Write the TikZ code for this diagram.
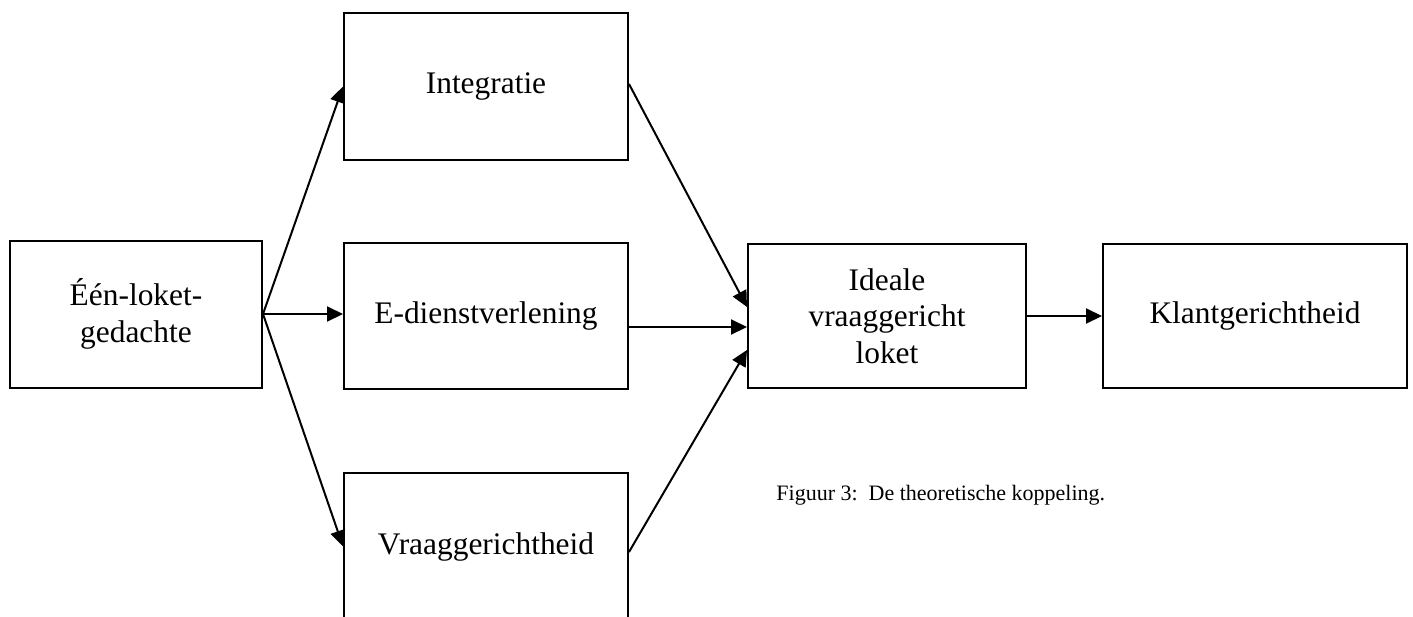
\documentclass[tikz,border=0pt]{standalone}
\usepackage{fontspec}
\setmainfont{Liberation Serif}
\usetikzlibrary{arrows.meta}
\begin{document}
\begin{tikzpicture}[x=0.5pt,y=-0.5pt,
  box/.style={draw,line width=1pt,inner sep=0pt,align=center,
    font=\fontsize{15.7}{18.3}\selectfont},
  link/.style={line width=1pt,-{Triangle[length=8pt,width=7.5pt]}},
  caption/.style={anchor=base west,inner sep=0pt,font=\fontsize{11}{13}\selectfont},
]
\useasboundingbox (0,0) rectangle (1413,616);

% boxes
\node[box,minimum width=126pt,minimum height=73.5pt] (een) at (136,314) {Één-loket-\\gedachte};
\node[box,minimum width=142pt,minimum height=73.5pt] (integ) at (486,86.5) {Integratie};
\node[box,minimum width=142pt,minimum height=73pt] (edienst) at (486,316) {E-dienstverlening};
\node[box,minimum width=142pt,minimum height=73.5pt] (vraag) at (486,546.5) {Vraaggerichtheid};
\node[box,minimum width=139pt,minimum height=72pt] (ideale) at (887,316) {Ideale\\vraaggericht\\loket};
\node[box,minimum width=152pt,minimum height=72pt] (klant) at (1255,316) {Klantgerichtheid};

% caption
\node[caption] (cap) at (776,500) {Figuur 3:\ \ De theoretische koppeling.};

% connectors
\draw[link] (een.east) -- (integ.west);
\draw[link] (een.east) -- (een.east -| edienst.west);
\draw[link] (een.east) -- (vraag.west);
\draw[link] ([yshift=1.25pt]integ.east) -- ([yshift=4.5pt]ideale.west);
\draw[link] ([yshift=-5.5pt]edienst.east) -- ([yshift=-5.5pt]ideale.west);
\draw[link] ([yshift=-2.75pt]vraag.east) -- ([yshift=-17pt]ideale.west);
\draw[link] (ideale.east) -- (klant.west);
\end{tikzpicture}
\end{document}
